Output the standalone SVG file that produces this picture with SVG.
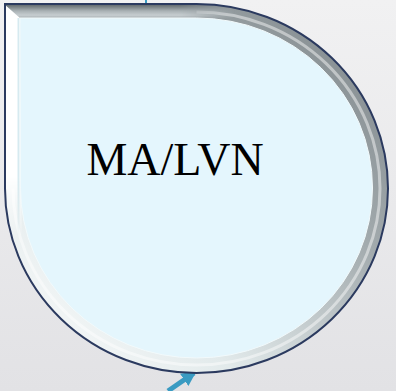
<svg xmlns="http://www.w3.org/2000/svg" width="396" height="391" viewBox="0 0 396 391">
<defs>
<linearGradient id="bg" x1="0" y1="0" x2="0" y2="1"><stop offset="0" stop-color="#f1f1f2"/><stop offset="1" stop-color="#e2e2e5"/></linearGradient>
<linearGradient id="bevel" x1="1" y1="0" x2="0" y2="1"><stop offset="0" stop-color="#7a8286"/><stop offset="0.35" stop-color="#a2aaad"/><stop offset="0.7" stop-color="#e2eaeb"/><stop offset="1" stop-color="#ffffff"/></linearGradient>
<linearGradient id="topband" x1="0" y1="0" x2="0" y2="1"><stop offset="0" stop-color="#586064"/><stop offset="0.5" stop-color="#aab2b5"/><stop offset="0.8" stop-color="#c6cdd0"/><stop offset="1" stop-color="#a8b0b3"/></linearGradient>
<linearGradient id="fadeR" gradientUnits="userSpaceOnUse" x1="180" y1="0" x2="235" y2="0"><stop offset="0" stop-color="#fff" stop-opacity="1"/><stop offset="1" stop-color="#fff" stop-opacity="0"/></linearGradient>
<linearGradient id="fadeD" gradientUnits="userSpaceOnUse" x1="0" y1="175" x2="0" y2="240"><stop offset="0" stop-color="#fff" stop-opacity="1"/><stop offset="1" stop-color="#fff" stop-opacity="0"/></linearGradient>
<mask id="topmask"><rect x="0" y="0" width="240" height="30" fill="url(#fadeR)"/></mask>
<mask id="leftmask"><rect x="0" y="0" width="40" height="250" fill="url(#fadeD)"/></mask>
<clipPath id="outerclip"><path d="M5,4 L196.5,4 A191.5,184.5 0 1 1 5,188.5 Z"/></clipPath>
<marker id="ah" viewBox="0 0 10 10" refX="8" refY="5" markerWidth="3" markerHeight="3" orient="auto"><path d="M0,0 L10,5 L0,10 Z" fill="#3a9bc2"/></marker>
<style>
.outer{fill:url(#bevel)}
.rim{fill:none;stroke:#2b3a5f;stroke-width:2}
.ridge{fill:none;stroke:#ffffff;stroke-opacity:0.45;stroke-width:3}
.inner{fill:#e4f6fd;stroke:#f2fafc;stroke-width:1}
.lbl{font-family:"Liberation Serif","Times New Roman",serif;font-size:46px;fill:#000;text-anchor:middle}
.conn{stroke:#3a9bc2;stroke-width:5;fill:none}
</style>
</defs>
<rect width="396" height="391" fill="url(#bg)"/>
<g id="connectors">
<path class="conn" d="M168,391 L194,373" marker-end="url(#ah)"/>
<path d="M146,0 L146,3" stroke="#3a9bc2" stroke-width="2"/>
</g>
<g id="node-ma-lvn">
<path class="outer" d="M5,4 L196.5,4 A191.5,184.5 0 1 1 5,188.5 Z"/>
<path class="ridge" d="M196.5,12 A183.5,176.5 0 1 1 13,188.5"/>
<g clip-path="url(#outerclip)">
<g mask="url(#topmask)">
<polygon points="4,4 240,4 240,18 20,18" fill="url(#topband)"/>
</g>
<g mask="url(#leftmask)">
<polygon points="4,4 20,18 22,250 4,250" fill="#ffffff"/>
<path d="M18.5,18 L18.5,240" stroke="#d6eaf0" stroke-width="2"/>
</g>
</g>
<path class="rim" d="M5,4 L196.5,4 A191.5,184.5 0 1 1 5,188.5 Z"/>
<path class="inner" d="M20,18 L196.5,18 A176,170 0 1 1 20.5,188 Z"/>
<text class="lbl" x="175" y="175">MA/LVN</text>
</g>
</svg>
